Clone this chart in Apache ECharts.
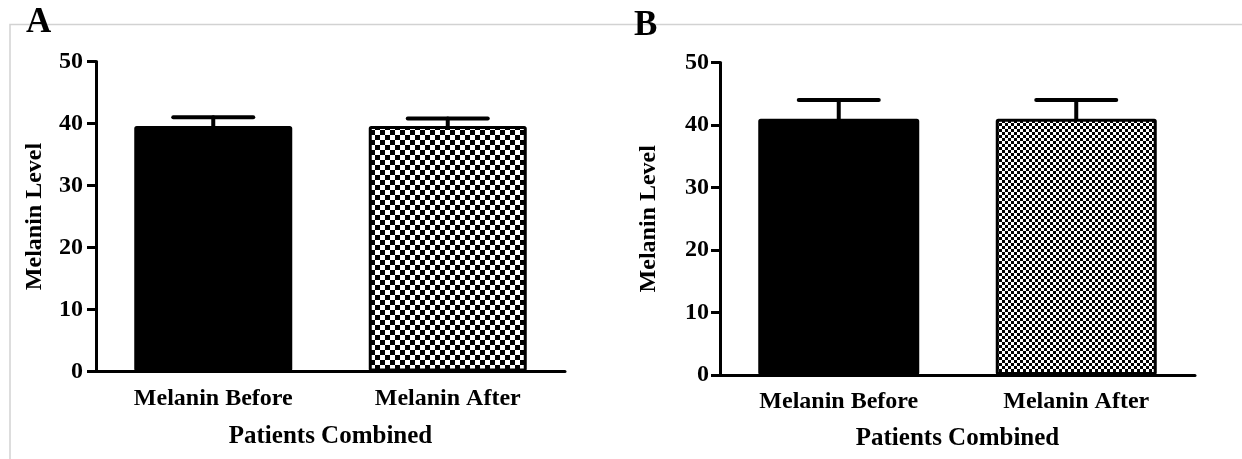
<!DOCTYPE html>
<html>
<head>
<meta charset="utf-8">
<title>Melanin Level</title>
<script src="https://cdn.jsdelivr.net/npm/echarts@6/dist/echarts.min.js"></script>
<style>
  html, body { margin: 0; padding: 0; background: #ffffff; }
  #chart { width: 1242px; height: 459px; }
</style>
</head>
<body>
<div id="chart"></div>
<script>
// Categories and values for the two panels
const categories = ['Melanin Before', 'Melanin After'];
const panelAMean = [39.6, 39.6];
const panelAUpper = [41.0, 40.8];
const panelBMean = [41.0, 41.0];
const panelBUpper = [44.0, 44.0];
const yMin = 0;
const yMax = 50;
const yStep = 10;
const panelLetters = ['A', 'B'];
const xAxisTitle = 'Patients Combined';
const yAxisTitle = 'Melanin Level';

const FONT = '"Liberation Serif", "Times New Roman", serif';

// Checkerboard fill used for the "after" bars
function checker(cell) {
  const c = document.createElement('canvas');
  c.width = c.height = cell * 2;
  const g = c.getContext('2d');
  g.fillStyle = '#ffffff';
  g.fillRect(0, 0, cell * 2, cell * 2);
  g.fillStyle = '#000000';
  g.fillRect(0, 0, cell, cell);
  g.fillRect(cell, cell, cell, cell);
  return c;
}

function barData(means, cell) {
  return means.map((v, i) => ({
    value: v,
    itemStyle: i === 0
      ? { color: '#000000' }
      : { color: { image: checker(cell), repeat: 'repeat' } }
  }));
}

function errData(means, uppers) {
  return means.map((v, i) => [i, v, uppers[i]]);
}

// Upper error bar: stem from the mean to the upper value plus a cap
function renderErr(params, api) {
  const x = api.value(0);
  const top = api.coord([x, api.value(2)]);
  const base = api.coord([x, api.value(1)]);
  const half = 40;
  const style = { stroke: '#000000', lineWidth: 4, lineCap: 'round' };
  return {
    type: 'group',
    children: [
      { type: 'line', shape: { x1: top[0], y1: base[1], x2: top[0], y2: top[1] }, style: style },
      { type: 'line', shape: { x1: top[0] - half, y1: top[1], x2: top[0] + half, y2: top[1] }, style: style }
    ]
  };
}

function xAxis(gridIndex, nameGap) {
  return {
    type: 'category',
    gridIndex: gridIndex,
    data: categories,
    name: xAxisTitle,
    nameLocation: 'middle',
    nameGap: nameGap,
    nameTextStyle: { fontFamily: FONT, fontWeight: 'bold', fontSize: 25, color: '#000' },
    axisLine: { lineStyle: { color: '#000', width: 3 } },
    axisTick: { alignWithLabel: true, length: 9, lineStyle: { color: '#000', width: 3 } },
    axisLabel: { margin: 15, fontFamily: FONT, fontWeight: 'bold', fontSize: 24, color: '#000' },
    splitLine: { show: false }
  };
}

function yAxis(gridIndex, nameGap, labelMargin) {
  return {
    type: 'value',
    gridIndex: gridIndex,
    min: yMin,
    max: yMax,
    interval: yStep,
    name: yAxisTitle,
    nameLocation: 'middle',
    nameGap: nameGap,
    nameTextStyle: { fontFamily: FONT, fontWeight: 'bold', fontSize: 24, color: '#000' },
    axisLine: { show: true, lineStyle: { color: '#000', width: 3 } },
    axisTick: { show: true, length: 9, lineStyle: { color: '#000', width: 3 } },
    axisLabel: { margin: labelMargin, fontFamily: FONT, fontWeight: 'bold', fontSize: 24, color: '#000' },
    splitLine: { show: false }
  };
}

const chart = echarts.init(document.getElementById('chart'), null, { renderer: 'canvas' });

chart.setOption({
  animation: false,
  backgroundColor: '#ffffff',
  grid: [
    { left: 96, right: 677, top: 61.5, bottom: 87.5, containLabel: false },
    { left: 720, right: 47, top: 62.5, bottom: 84, containLabel: false }
  ],
  xAxis: [xAxis(0, 53), xAxis(1, 51)],
  yAxis: [yAxis(0, 49, 13), yAxis(1, 59, 11)],
  graphic: [
    {
      type: 'polyline',
      silent: true,
      z: -10,
      shape: { points: [[10, 459], [10, 24.5], [1242, 24.5]] },
      style: { stroke: '#d2d2d2', lineWidth: 1.5, fill: null }
    },
    {
      type: 'text', x: 26, y: 5, z: 10,
      style: { text: panelLetters[0], fontFamily: FONT, fontWeight: 'bold', fontSize: 35, fill: '#000', verticalAlign: 'top' }
    },
    {
      type: 'text', x: 634, y: 8, z: 10,
      style: { text: panelLetters[1], fontFamily: FONT, fontWeight: 'bold', fontSize: 35, fill: '#000', verticalAlign: 'top' }
    }
  ],
  series: [
    {
      type: 'bar',
      xAxisIndex: 0, yAxisIndex: 0,
      barWidth: 158,
      data: barData(panelAMean, 5),
      itemStyle: { borderColor: '#000', borderWidth: 3, borderRadius: 1 },
      z: 2
    },
    {
      type: 'custom',
      xAxisIndex: 0, yAxisIndex: 0,
      renderItem: renderErr,
      data: errData(panelAMean, panelAUpper),
      z: 3
    },
    {
      type: 'bar',
      xAxisIndex: 1, yAxisIndex: 1,
      barWidth: 161,
      data: barData(panelBMean, 3),
      itemStyle: { borderColor: '#000', borderWidth: 3, borderRadius: 1 },
      z: 2
    },
    {
      type: 'custom',
      xAxisIndex: 1, yAxisIndex: 1,
      renderItem: renderErr,
      data: errData(panelBMean, panelBUpper),
      z: 3
    }
  ]
});
</script>
</body>
</html>
